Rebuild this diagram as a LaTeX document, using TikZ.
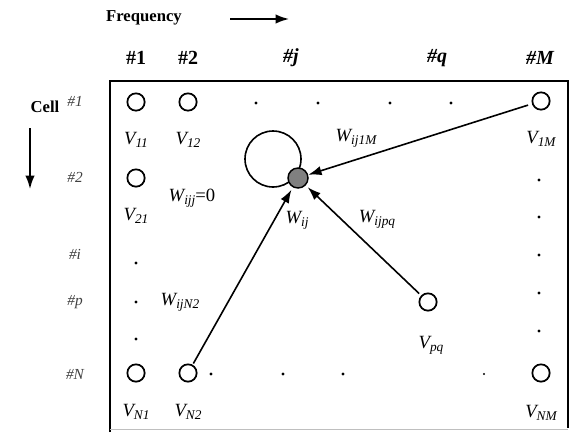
\documentclass[tikz,border=0pt]{standalone}
\usepackage{fontspec}
\setmainfont{Liberation Serif}
\usetikzlibrary{arrows.meta}
\newcommand{\sbx}[1]{\raisebox{-0.35ex}{\fontsize{10}{10}\selectfont #1}}
\begin{document}
\begin{tikzpicture}[x=0.75pt,y=-0.75pt,
  neuron/.style={circle,draw,line width=1.3pt,minimum size=13pt,inner sep=0pt},
  dotn/.style={circle,fill,minimum size=2.4pt,inner sep=0pt},
  lbl/.style={font=\itshape\fontsize{14}{14}\selectfont,inner sep=1pt},
  colh/.style={font=\bfseries\fontsize{15}{16}\selectfont,inner sep=1pt},
  colhi/.style={font=\bfseries\itshape\fontsize{15}{16}\selectfont,inner sep=1pt},
  rowh/.style={font=\itshape\fontsize{11.5}{12}\selectfont,inner sep=1pt,text=black!75},
  titl/.style={font=\bfseries\fontsize{12.5}{13}\selectfont,inner sep=1pt},
  arr/.style={-{Latex[length=10pt,width=7pt]},line width=1.2pt}]
\useasboundingbox (0,0) rectangle (571,432);
% box
\draw[line width=1.2pt] (110,432) -- (110,81) -- (568,81) -- (568,428);
\draw[line width=0.4pt,black!25] (110,429) -- (568,429);
% titles
\node[titl] (freq) at (144,18) {Frequency};
\coordinate (fa) at (230,19);
\coordinate (fb) at (289,19);
\draw[arr] (fa) -- (fb);
\node[titl] (cell) at (45,107) {Cell};
\coordinate (ca) at (30,128);
\coordinate (cb) at (30,189);
\draw[arr] (ca) -- (cb);
% column headers
\node[colh] (c1) at (136,58) {\#1};
\node[colh] (c2) at (188,58) {\#2};
\node[colhi] (cj) at (291,58) {\#\textit{j}};
\node[colhi] (cq) at (437,58) {\#\textit{q}};
\node[colhi] (cM) at (540,58) {\#\textit{M}};
% row headers
\node[rowh] (r1) at (75,101) {\#1};
\node[rowh] (r2) at (75,177) {\#2};
\node[rowh] (ri) at (75,254) {\#\textit{i}};
\node[rowh] (rp) at (75,302) {\#\textit{p}};
\node[rowh] (rN) at (75,374) {\#\textit{N}};
% neurons
\node[neuron] (v11) at (136,102) {};
\node[neuron] (v12) at (188,102) {};
\node[neuron] (v1M) at (541,101) {};
\node[neuron] (v21) at (136,178) {};
\node[neuron] (vN1) at (136,373) {};
\node[neuron] (vN2) at (188,373) {};
\node[neuron] (vNM) at (541,373) {};
\node[neuron] (vpq) at (428,302) {};
% dots
\foreach \x/\n in {256/a,318/b,390/c,451/d} \node[dotn] (t\n) at (\x,103) {};
\foreach \y/\n in {180/a,217/b,255/c,293/d,331/e} \node[dotn] (r\n) at (539,\y) {};
\foreach \y/\n in {263/a,302/b,339/c} \node[dotn] (l\n) at (136,\y) {};
\foreach \x/\n in {211/a,283/b,343/c} \node[dotn] (b\n) at (\x,374) {};
\node[dotn,minimum size=1.6pt] (bd) at (484,374) {};
% self loop and target neuron
\draw[line width=1.2pt] (273,159) circle (28);
\node[circle,draw,line width=1.1pt,fill=black!50,minimum size=15pt,inner sep=0pt] (wij) at (298,178) {};
% connections
\draw[arr,shorten <=3pt] (v1M) -- (wij);
\draw[arr,shorten <=2pt,shorten >=2pt] (vpq) -- (wij);
\draw[arr,shorten <=1pt,shorten >=2pt] (vN2) -- (wij);
% labels
\node[lbl] (lv11) at (136,140) {V\sbx{11}};
\node[lbl] (lv12) at (188,140) {V\sbx{12}};
\node[lbl] (lv1M) at (541,139) {V\sbx{1M}};
\node[lbl] (lv21) at (136,216) {V\sbx{21}};
\node[lbl] (lwjj) at (192,198) {W\sbx{ijj}\textup{=0}};
\node[lbl] (lwij) at (297,220) {W\sbx{ij}};
\node[lbl] (lwpq) at (377,219) {W\sbx{ijpq}};
\node[lbl] (lw1M) at (356,138) {W\sbx{ij1M}};
\node[lbl] (lwN2) at (180,302) {W\sbx{ijN2}};
\node[lbl] (lvpq) at (431,345) {V\sbx{pq}};
\node[lbl] (lvN1) at (136,412) {V\sbx{N1}};
\node[lbl] (lvN2) at (188,412) {V\sbx{N2}};
\node[lbl] (lvNM) at (541,413) {V\sbx{NM}};
\end{tikzpicture}
\end{document}
